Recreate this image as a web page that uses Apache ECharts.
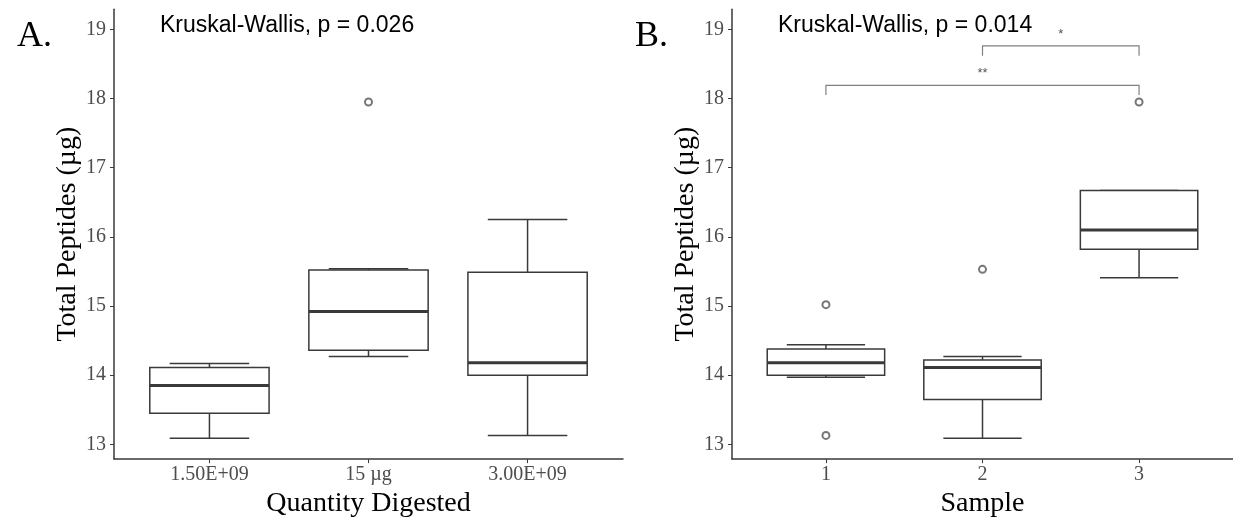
<!DOCTYPE html>
<html>
<head>
<meta charset="utf-8">
<script src="https://cdn.jsdelivr.net/npm/echarts@6/dist/echarts.min.js"></script>
<style>
  html, body { margin: 0; padding: 0; background: #fff; }
  #chart { width: 1233px; height: 523px; }
</style>
</head>
<body>
<div id="chart"></div>
<script>
// panel A - quantity digested
var catsA = ['1.50E+09', '15 µg', '3.00E+09'];
// [x, whiskerLow, q1, median, q3, whiskerHigh]
var boxesA = [
  [1, 13.09, 13.45, 13.85, 14.11, 14.17],
  [2, 14.27, 14.36, 14.92, 15.52, 15.54],
  [3, 13.13, 14.00, 14.18, 15.49, 16.25]
];
var outliersA = [[2, 17.95]];

// panel B - sample
var catsB = ['1', '2', '3'];
var boxesB = [
  [1, 13.97, 14.00, 14.18, 14.38, 14.44],
  [2, 13.09, 13.65, 14.11, 14.22, 14.27],
  [3, 15.41, 15.82, 16.10, 16.67, 16.67]
];
var outliersB = [[1, 15.02], [1, 13.13], [2, 15.53], [3, 17.95]];

// significance brackets: [from, to, y, label]
var bracketsB = [
  [1, 3, 18.19, '**'],
  [2, 3, 18.76, '*']
];

var yTicks = [13, 14, 15, 16, 17, 18, 19];
var kwA = 'Kruskal-Wallis, p = 0.026';
var kwB = 'Kruskal-Wallis, p = 0.014';

var SERIF = 'Liberation Serif, Times New Roman, serif';
var SANS = 'Liberation Sans, Arial, sans-serif';
var INK = '#3a3a3a';

function boxItem(params, api) {
  var x = api.value(0);
  var lo = api.coord([x, api.value(1)]);
  var q1 = api.coord([x, api.value(2)]);
  var md = api.coord([x, api.value(3)]);
  var q3 = api.coord([x, api.value(4)]);
  var hi = api.coord([x, api.value(5)]);
  var hb = api.size([0.75, 0])[0] / 2;
  var hc = api.size([0.5, 0])[0] / 2;
  var cx = lo[0];
  var st = { stroke: INK, lineWidth: 1.5, fill: null };
  return {
    type: 'group',
    children: [
      { type: 'line', shape: { x1: cx, y1: lo[1], x2: cx, y2: q1[1] }, style: st },
      { type: 'line', shape: { x1: cx, y1: q3[1], x2: cx, y2: hi[1] }, style: st },
      { type: 'line', shape: { x1: cx - hc, y1: lo[1], x2: cx + hc, y2: lo[1] }, style: st },
      { type: 'line', shape: { x1: cx - hc, y1: hi[1], x2: cx + hc, y2: hi[1] }, style: st },
      { type: 'rect', shape: { x: cx - hb, y: q3[1], width: hb * 2, height: q1[1] - q3[1] },
        style: { stroke: INK, lineWidth: 1.5, fill: '#fff' } },
      { type: 'line', shape: { x1: cx - hb, y1: md[1], x2: cx + hb, y2: md[1] },
        style: { stroke: INK, lineWidth: 3 } }
    ]
  };
}

function bracketItem(params, api) {
  var a = api.value(0), b = api.value(1), y = api.value(2);
  var p1 = api.coord([a, y]);
  var p2 = api.coord([b, y]);
  var tip = api.size([0, 0.14])[1];
  var lab = api.coord([(a + b) / 2, y + 0.17]);
  var st = { stroke: '#808080', lineWidth: 1.2, fill: null };
  return {
    type: 'group',
    children: [
      { type: 'polyline', shape: { points: [[p1[0], p1[1] + tip], p1, p2, [p2[0], p2[1] + tip]] }, style: st },
      { type: 'text', x: lab[0], y: lab[1],
        style: { text: bracketsB[params.dataIndex][3], fill: '#555', font: '13px ' + SANS,
                 textAlign: 'center', textVerticalAlign: 'middle' } }
    ]
  };
}

function xAxisFor(idx, cats, name) {
  return {
    type: 'value', gridIndex: idx, min: 0.4, max: 3.6,
    name: name, nameLocation: 'middle', nameGap: 27,
    nameTextStyle: { fontFamily: SERIF, fontSize: 28, color: '#000' },
    axisLine: { lineStyle: { color: INK, width: 1.5 } },
    axisTick: { show: true, length: 4, customValues: [1, 2, 3], lineStyle: { color: INK } },
    axisLabel: { customValues: [1, 2, 3], margin: 6, fontFamily: SERIF, fontSize: 20, color: '#4d4d4d',
                 formatter: function (v) { return cats[Math.round(v) - 1]; } },
    splitLine: { show: false }
  };
}

function yAxisFor(idx) {
  return {
    type: 'value', gridIndex: idx, min: 12.787, max: 19.29,
    name: 'Total Peptides (µg)', nameLocation: 'middle', nameGap: 32,
    nameTextStyle: { fontFamily: SERIF, fontSize: 28, color: '#000' },
    axisLine: { show: true, lineStyle: { color: INK, width: 1.5 } },
    axisTick: { show: true, length: 4, customValues: yTicks, lineStyle: { color: INK } },
    axisLabel: { customValues: yTicks, margin: 8, fontFamily: SERIF, fontSize: 20, color: '#4d4d4d' },
    splitLine: { show: false }
  };
}

var chart = echarts.init(document.getElementById('chart'));
chart.setOption({
  animation: false,
  backgroundColor: '#fff',
  title: [
    { text: 'A.', left: 12, top: 14, textStyle: { fontFamily: SERIF, fontSize: 36, fontWeight: 'normal', color: '#000' } },
    { text: 'B.', left: 630, top: 14, textStyle: { fontFamily: SERIF, fontSize: 36, fontWeight: 'normal', color: '#000' } },
    { text: kwA, left: 155, top: 9, textStyle: { fontFamily: SANS, fontSize: 23, fontWeight: 'normal', color: '#000' } },
    { text: kwB, left: 773, top: 9, textStyle: { fontFamily: SANS, fontSize: 23, fontWeight: 'normal', color: '#000' } }
  ],
  grid: [
    { left: 114, top: 9.3, width: 509, height: 459 },
    { left: 732, top: 9.3, width: 506, height: 459 }
  ],
  xAxis: [xAxisFor(0, catsA, 'Quantity Digested'), xAxisFor(1, catsB, 'Sample')],
  yAxis: [yAxisFor(0), yAxisFor(1)],
  series: [
    { type: 'custom', xAxisIndex: 0, yAxisIndex: 0, renderItem: boxItem, data: boxesA, z: 2 },
    { type: 'scatter', xAxisIndex: 0, yAxisIndex: 0, data: outliersA, symbol: 'emptyCircle', symbolSize: 7,
      itemStyle: { color: '#555', borderColor: '#555', borderWidth: 1 }, z: 3 },
    { type: 'custom', xAxisIndex: 1, yAxisIndex: 1, renderItem: boxItem, data: boxesB, z: 2 },
    { type: 'scatter', xAxisIndex: 1, yAxisIndex: 1, data: outliersB, symbol: 'emptyCircle', symbolSize: 7,
      itemStyle: { color: '#555', borderColor: '#555', borderWidth: 1 }, z: 3 },
    { type: 'custom', xAxisIndex: 1, yAxisIndex: 1, renderItem: bracketItem, data: bracketsB, z: 2 }
  ]
});
</script>
</body>
</html>
